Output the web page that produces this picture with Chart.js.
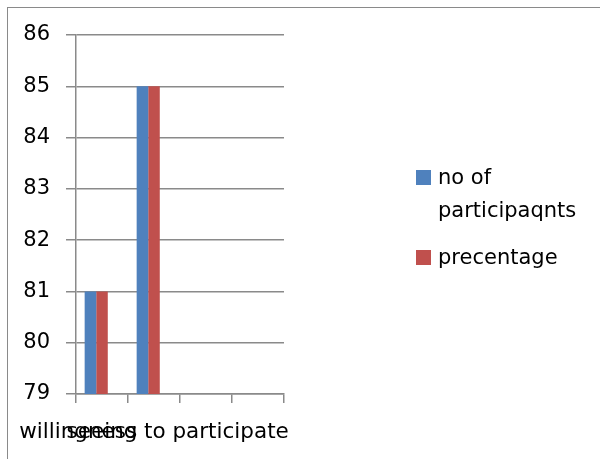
<!DOCTYPE html>
<html>
<head>
<meta charset="utf-8">
<script src="https://cdn.jsdelivr.net/npm/chart.js@4/dist/chart.umd.min.js"></script>
<style>
  html, body { margin: 0; padding: 0; background: #fff; overflow: hidden; }
  #wrap { position: relative; width: 600px; height: 459px; }
  #frame { position: absolute; left: 7px; top: 7px; width: 640px; height: 500px;
           border: 1.5px solid #8a8a8a; box-sizing: border-box; }
  #chart { position: absolute; left: 0; top: 0; }
  .key { position: absolute; width: 15px; height: 15px; }
  .label { position: absolute; left: 438px; font-family: "DejaVu Sans", sans-serif;
           font-size: 21px; line-height: 33px; color: #000; white-space: nowrap; }
</style>
</head>
<body>
<div id="wrap">
  <div id="frame"></div>
  <canvas id="chart" width="600" height="459"></canvas>
  <div class="key" style="left:416px;top:170px;background:#4F81BD"></div>
  <div class="label" style="top:161px">no of<br>participaqnts</div>
  <div class="key" style="left:416px;top:250px;background:#C0504D"></div>
  <div class="label" style="top:241px">precentage</div>
</div>
<script>
// Survey categories (last two columns are left empty)
const categories = ["seeing", "willingness to participate", "", ""];
const participants = [81, 85, null, null];
const percentage = [81, 85, null, null];
// third column slot in each group, kept empty
const spare = [null, null, null, null];

const yMin = 79;
const yMax = 86;

const gridColor = "#8a8a8a";
const fontFamily = "DejaVu Sans";

new Chart(document.getElementById("chart"), {
  type: "bar",
  data: {
    labels: categories,
    datasets: [
      { label: "no of participaqnts", data: participants, backgroundColor: "#4F81BD" },
      { label: "precentage", data: percentage, backgroundColor: "#C0504D" },
      { label: "", data: spare, backgroundColor: "rgba(0,0,0,0)" }
    ]
  },
  options: {
    responsive: false,
    animation: false,
    layout: { padding: { left: 0, top: 35, right: 316, bottom: 0 } },
    plugins: { legend: { display: false }, tooltip: { enabled: false } },
    datasets: { bar: { categoryPercentage: 0.667, barPercentage: 1 } },
    scales: {
      x: {
        grid: { offset: true, drawOnChartArea: false, drawTicks: true, tickLength: 9,
                color: gridColor, lineWidth: 1.5 },
        border: { display: true, color: gridColor, width: 1.5 },
        ticks: { autoSkip: false, maxRotation: 0, minRotation: 0, padding: 17,
                 color: "#000", font: { family: fontFamily, size: 21.5 } },
        afterFit(scale) { scale.height = 65; }
      },
      y: {
        min: yMin,
        max: yMax,
        ticks: { stepSize: 1, padding: 16, color: "#000",
                 font: { family: fontFamily, size: 21 } },
        grid: { color: gridColor, lineWidth: 1.5, tickLength: 10 },
        border: { display: true, color: gridColor, width: 1.5 },
        afterFit(scale) { scale.width = 76; }
      }
    }
  }
});
</script>
</body>
</html>
